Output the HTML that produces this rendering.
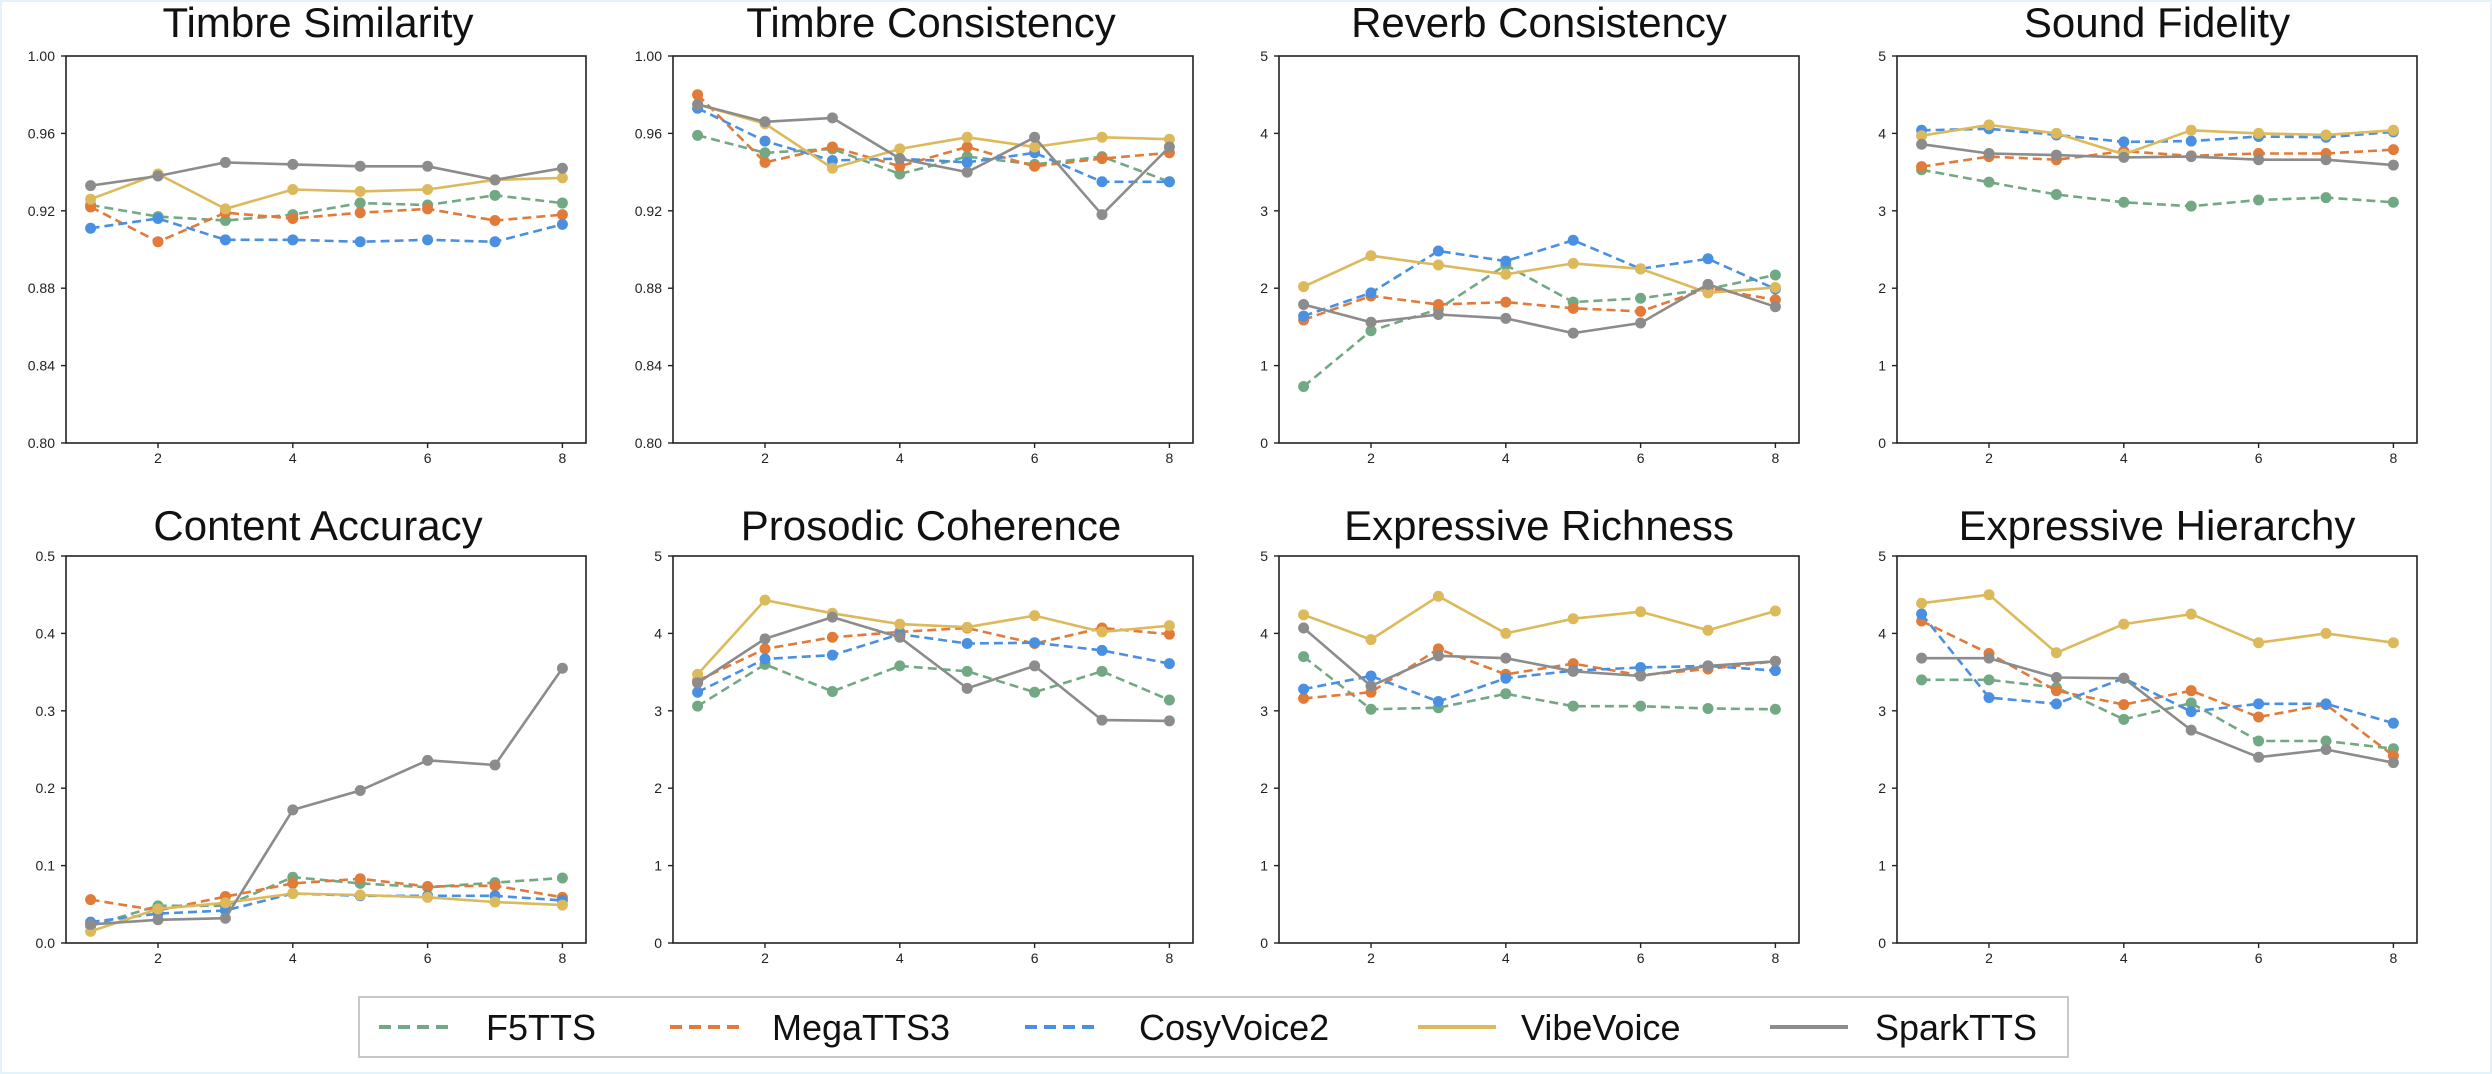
<!DOCTYPE html>
<html><head><meta charset="utf-8"><style>
html,body{margin:0;padding:0;background:#fff;}
svg{display:block;}
text{font-family:"Liberation Sans","DejaVu Sans",sans-serif;fill:#222;}
.t{font-size:42px;text-anchor:middle;fill:#111;}
.y{font-size:14px;text-anchor:end;}
.x{font-size:14px;text-anchor:middle;}
.lg{font-size:36px;fill:#111;}
</style></head><body>
<svg id="s" width="2492" height="1074" viewBox="0 0 2492 1074" xmlns="http://www.w3.org/2000/svg">
<rect x="0" y="0" width="2492" height="1074" fill="#fff" stroke="#e4f3f9" stroke-width="4"/>
<g id="p0" transform="translate(66,56)"><text class="t" x="252" y="-19">Timbre Similarity</text>
<text class="y" x="-11" y="392">0.80</text><text class="y" x="-11" y="314.6">0.84</text><text class="y" x="-11" y="237.2">0.88</text><text class="y" x="-11" y="159.8">0.92</text><text class="y" x="-11" y="82.4">0.96</text><text class="y" x="-11" y="5">1.00</text></g>
<g id="p1" transform="translate(673,56)"><text class="t" x="258" y="-19">Timbre Consistency</text>
<text class="y" x="-11" y="392">0.80</text><text class="y" x="-11" y="314.6">0.84</text><text class="y" x="-11" y="237.2">0.88</text><text class="y" x="-11" y="159.8">0.92</text><text class="y" x="-11" y="82.4">0.96</text><text class="y" x="-11" y="5">1.00</text></g>
<g id="p2" transform="translate(1279,56)"><text class="t" x="260" y="-19">Reverb Consistency</text>
<text class="y" x="-11" y="392">0</text><text class="y" x="-11" y="314.6">1</text><text class="y" x="-11" y="237.2">2</text><text class="y" x="-11" y="159.8">3</text><text class="y" x="-11" y="82.4">4</text><text class="y" x="-11" y="5">5</text></g>
<g id="p3" transform="translate(1897,56)"><text class="t" x="260" y="-19">Sound Fidelity</text>
<text class="y" x="-11" y="392">0</text><text class="y" x="-11" y="314.6">1</text><text class="y" x="-11" y="237.2">2</text><text class="y" x="-11" y="159.8">3</text><text class="y" x="-11" y="82.4">4</text><text class="y" x="-11" y="5">5</text></g>
<g id="p4" transform="translate(66,556)"><text class="t" x="252" y="-16">Content Accuracy</text>
<text class="y" x="-11" y="392">0.0</text><text class="y" x="-11" y="314.6">0.1</text><text class="y" x="-11" y="237.2">0.2</text><text class="y" x="-11" y="159.8">0.3</text><text class="y" x="-11" y="82.4">0.4</text><text class="y" x="-11" y="5">0.5</text></g>
<g id="p5" transform="translate(673,556)"><text class="t" x="258" y="-16">Prosodic Coherence</text>
<text class="y" x="-11" y="392">0</text><text class="y" x="-11" y="314.6">1</text><text class="y" x="-11" y="237.2">2</text><text class="y" x="-11" y="159.8">3</text><text class="y" x="-11" y="82.4">4</text><text class="y" x="-11" y="5">5</text></g>
<g id="p6" transform="translate(1279,556)"><text class="t" x="260" y="-16">Expressive Richness</text>
<text class="y" x="-11" y="392">0</text><text class="y" x="-11" y="314.6">1</text><text class="y" x="-11" y="237.2">2</text><text class="y" x="-11" y="159.8">3</text><text class="y" x="-11" y="82.4">4</text><text class="y" x="-11" y="5">5</text></g>
<g id="p7" transform="translate(1897,556)"><text class="t" x="260" y="-16">Expressive Hierarchy</text>
<text class="y" x="-11" y="392">0</text><text class="y" x="-11" y="314.6">1</text><text class="y" x="-11" y="237.2">2</text><text class="y" x="-11" y="159.8">3</text><text class="y" x="-11" y="82.4">4</text><text class="y" x="-11" y="5">5</text></g>
<rect x="359" y="997" width="1709" height="60" fill="#fff" stroke="#c8c8c8" stroke-width="2"/>
<line x1="379" y1="1027" x2="452" y2="1027" stroke="#72a883" stroke-width="4" stroke-dasharray="12,7"/>
<text class="lg" x="486" y="1040">F5TTS</text>
<line x1="670" y1="1027" x2="743" y2="1027" stroke="#e07b39" stroke-width="4" stroke-dasharray="12,7"/>
<text class="lg" x="772" y="1040">MegaTTS3</text>
<line x1="1025" y1="1027" x2="1098" y2="1027" stroke="#4a90e2" stroke-width="4" stroke-dasharray="12,7"/>
<text class="lg" x="1139" y="1040">CosyVoice2</text>
<line x1="1418" y1="1027" x2="1496" y2="1027" stroke="#dcb95a" stroke-width="4"/>
<text class="lg" x="1521" y="1040">VibeVoice</text>
<line x1="1770" y1="1027" x2="1848" y2="1027" stroke="#8c8c8c" stroke-width="4"/>
<text class="lg" x="1875" y="1040">SparkTTS</text>
</svg>
<script>
var NS="http://www.w3.org/2000/svg";
function el(t,a,p){var e=document.createElementNS(NS,t);for(var k in a)e.setAttribute(k,a[k]);p.appendChild(e);return e;}
var W=520,H=387;
var cols=["#72a883","#e07b39","#4a90e2","#dcb95a","#8c8c8c"];
var dash=[1,1,1,0,0];
var P=[
{r:[0.8,1],d:[[.923,.917,.915,.918,.924,.923,.928,.924],[.922,.904,.919,.916,.919,.921,.915,.918],[.911,.916,.905,.905,.904,.905,.904,.913],[.926,.939,.921,.931,.930,.931,.936,.937],[.933,.938,.945,.944,.943,.943,.936,.942]]},
{r:[0.8,1],d:[[.959,.950,.952,.939,.948,.944,.948,.935],[.980,.945,.953,.943,.953,.943,.947,.950],[.973,.956,.946,.947,.945,.950,.935,.935],[.975,.965,.942,.952,.958,.953,.958,.957],[.975,.966,.968,.947,.940,.958,.918,.953]]},
{r:[0,5],d:[[.73,1.45,1.73,2.30,1.82,1.87,1.99,2.17],[1.59,1.90,1.79,1.82,1.74,1.70,2.0,1.85],[1.64,1.94,2.48,2.35,2.62,2.25,2.38,1.99],[2.02,2.42,2.30,2.18,2.32,2.25,1.94,2.01],[1.79,1.56,1.66,1.61,1.42,1.55,2.05,1.76]]},
{r:[0,5],d:[[3.53,3.37,3.21,3.11,3.06,3.14,3.17,3.11],[3.57,3.70,3.66,3.77,3.71,3.74,3.74,3.79],[4.04,4.06,3.98,3.89,3.90,3.96,3.95,4.02],[3.97,4.11,4.00,3.73,4.04,4.00,3.98,4.04],[3.86,3.74,3.72,3.69,3.70,3.66,3.66,3.59]]},
{r:[0,0.5],d:[[.022,.048,.048,.085,.077,.072,.078,.084],[.056,.042,.060,.077,.083,.073,.074,.059],[.027,.038,.042,.064,.061,.061,.061,.055],[.015,.044,.052,.064,.062,.059,.053,.049],[.024,.030,.032,.172,.197,.236,.230,.355]]},
{r:[0,5],d:[[3.06,3.60,3.25,3.58,3.51,3.24,3.51,3.14],[3.39,3.80,3.95,4.02,4.07,3.87,4.07,3.99],[3.24,3.67,3.72,3.99,3.87,3.88,3.78,3.61],[3.47,4.43,4.26,4.12,4.08,4.23,4.02,4.10],[3.36,3.93,4.21,3.95,3.29,3.58,2.88,2.87]]},
{r:[0,5],d:[[3.70,3.02,3.04,3.22,3.06,3.06,3.03,3.02],[3.16,3.24,3.80,3.47,3.61,3.46,3.54,3.64],[3.28,3.45,3.12,3.42,3.52,3.56,3.58,3.52],[4.24,3.92,4.48,4.00,4.19,4.28,4.04,4.29],[4.07,3.32,3.71,3.68,3.51,3.45,3.58,3.64]]},
{r:[0,5],d:[[3.40,3.40,3.30,2.89,3.10,2.61,2.61,2.51],[4.16,3.74,3.26,3.08,3.26,2.92,3.08,2.42],[4.25,3.17,3.09,3.42,2.99,3.09,3.09,2.84],[4.39,4.50,3.75,4.12,4.25,3.88,4.00,3.88],[3.68,3.68,3.43,3.42,2.75,2.40,2.50,2.33]]}
];
P.forEach(function(p,i){
 var g=document.getElementById("p"+i);
 el("rect",{x:0,y:0,width:W,height:H,fill:"none",stroke:"#222","stroke-width":1.6},g);
 for(var k=0;k<6;k++){var y=H-k*77.4;el("line",{x1:-5,y1:y,x2:0,y2:y,stroke:"#222","stroke-width":1.4},g);}
 [2,4,6,8].forEach(function(n){var x=24.6+(n-1)*67.4;el("line",{x1:x,y1:H,x2:x,y2:H+5,stroke:"#222","stroke-width":1.4},g);
  var t=el("text",{"class":"x",x:x,y:H+20},g);t.textContent=n;});
 p.d.forEach(function(s,j){
  var pts=s.map(function(v,n){return [24.6+n*67.4,H-(v-p.r[0])/(p.r[1]-p.r[0])*H];});
  var a={points:pts.map(function(q){return q[0].toFixed(1)+","+q[1].toFixed(1)}).join(" "),fill:"none",stroke:cols[j],"stroke-width":2.6,"stroke-linejoin":"round"};
  if(dash[j])a["stroke-dasharray"]="9,5";
  el("polyline",a,g);
  pts.forEach(function(q){el("circle",{cx:q[0],cy:q[1],r:5.5,fill:cols[j]},g);});
 });
});
</script>
</body></html>
